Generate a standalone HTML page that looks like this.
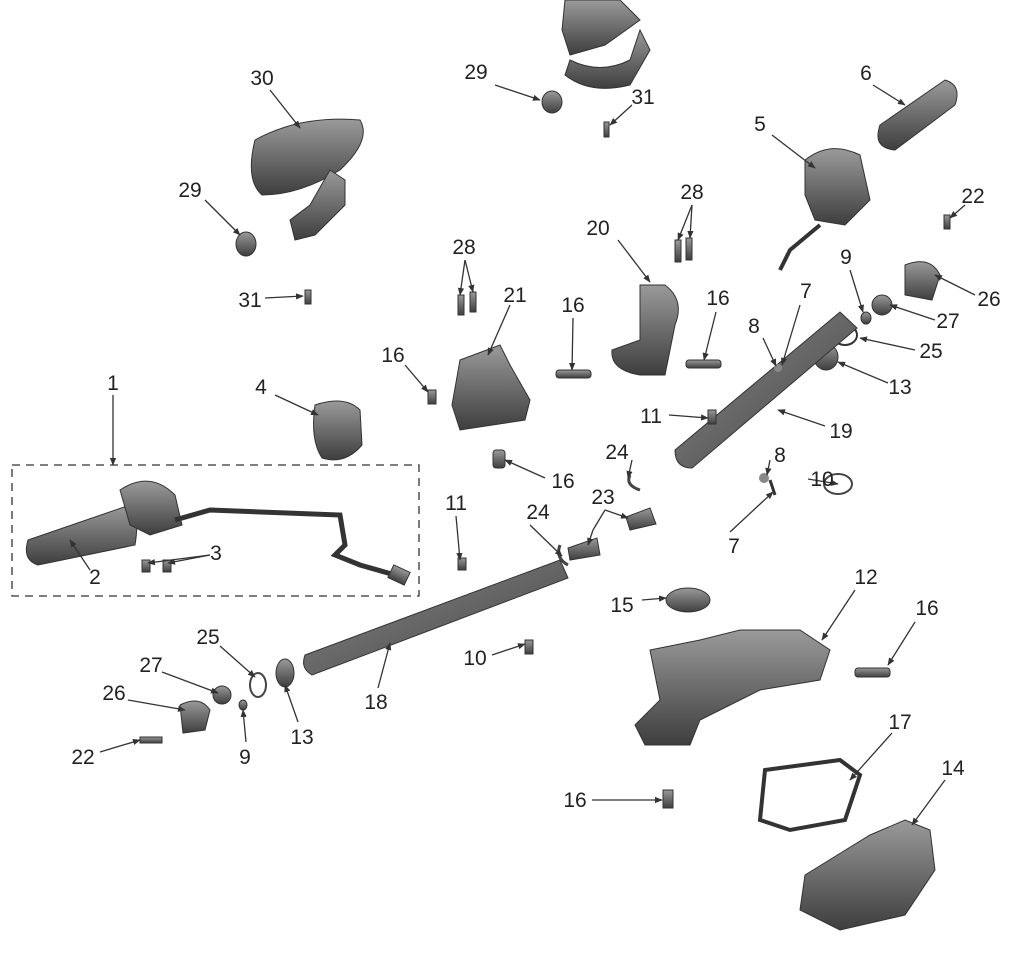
<!DOCTYPE html>
<html><head><meta charset="utf-8"><style>
html,body{margin:0;padding:0;background:#fff;}
svg{display:block;}
text{font-family:"Liberation Sans",sans-serif;font-size:21px;fill:#222;}
</style></head><body>
<svg width="1017" height="966" viewBox="0 0 1017 966">
<defs>
<linearGradient id="g" x1="0" y1="0" x2="0" y2="1"><stop offset="0" stop-color="#9a9a9a"/><stop offset="1" stop-color="#3e3e3e"/></linearGradient>
<linearGradient id="gh" x1="0" y1="0" x2="1" y2="1"><stop offset="0" stop-color="#888"/><stop offset="1" stop-color="#444"/></linearGradient>
<marker id="a" viewBox="0 0 10 10" refX="9" refY="5" markerWidth="6" markerHeight="6" orient="auto"><path d="M0 1 L10 5 L0 9Z" fill="#333"/></marker>
</defs>
<g fill="url(#g)" stroke="#333" stroke-width="1">
<path d="M255 140 Q300 115 360 120 Q372 140 340 170 Q300 195 262 195 Q245 180 255 140Z"/>
<path d="M330 170 L345 180 L345 205 L315 235 L295 240 L290 220 L310 205 Z"/>
<ellipse cx="246" cy="244" rx="10" ry="12"/>
<rect x="305" y="290" width="6" height="14"/>
<path d="M565 0 L620 0 L640 20 L605 45 L570 55 L562 30Z"/>
<path d="M570 60 Q600 75 630 60 L640 30 L650 50 L630 85 Q590 95 565 75Z"/>
<ellipse cx="552" cy="102" rx="10" ry="11"/>
<rect x="604" y="122" width="5" height="15"/>
<path d="M880 125 L945 80 Q962 85 955 105 L895 150 Q872 148 880 125Z"/>
<path d="M805 160 Q830 140 860 155 L870 200 L845 225 L815 220 L805 195Z"/>
<path d="M820 225 L790 250 L780 270" fill="none" stroke-width="4"/>
<path d="M905 265 Q930 255 940 275 L932 300 L905 295Z"/>
<ellipse cx="882" cy="305" rx="10" ry="10"/>
<ellipse cx="866" cy="318" rx="5" ry="6"/>
<ellipse cx="826" cy="357" rx="12" ry="13"/>
<ellipse cx="845" cy="335" rx="12" ry="10" fill="none" stroke-width="2"/>
<rect x="944" y="215" width="6" height="14"/>
<path d="M640 285 L665 285 Q685 300 675 325 L665 375 L640 375 Q610 370 612 350 L640 340Z"/>
<path d="M460 360 L500 345 L510 365 L530 400 L525 420 L460 430 L452 405Z"/>
<rect x="458" y="295" width="6" height="20"/><rect x="470" y="292" width="6" height="20"/>
<rect x="675" y="240" width="6" height="22"/><rect x="686" y="238" width="6" height="22"/>
<rect x="556" y="370" width="35" height="8" rx="3"/>
<rect x="686" y="360" width="35" height="8" rx="3"/>
<rect x="428" y="390" width="8" height="14"/>
<rect x="493" y="450" width="12" height="18" rx="3"/>
<path d="M315 405 Q345 395 360 410 L362 445 Q345 465 322 458 Q310 440 315 405Z"/>
<path d="M28 540 L130 505 Q140 515 135 545 L38 565 Q22 560 28 540Z"/>
<path d="M120 490 Q150 470 175 495 L182 525 L150 535 L130 525Z"/>
<path d="M175 520 L210 510 L340 515 L345 545 L335 555 L360 565 L395 575" fill="none" stroke-width="5"/>
<rect x="390" y="568" width="18" height="14" transform="rotate(25 399 575)"/>
<rect x="142" y="560" width="8" height="12"/><rect x="163" y="560" width="8" height="12"/>
<path d="M675 450 L840 312 L857 328 L692 468 Q675 468 675 450Z" fill="url(#gh)"/>
<path d="M305 655 L560 560 L568 578 L312 675 Q300 668 305 655Z" fill="url(#gh)"/>
<path d="M568 548 L597 538 L600 555 L570 560Z"/>
<path d="M626 517 L650 508 L656 524 L630 530Z"/>
<ellipse cx="285" cy="673" rx="9" ry="14"/>
<ellipse cx="222" cy="695" rx="9" ry="9"/>
<ellipse cx="243" cy="705" rx="4" ry="5"/>
<path d="M180 705 Q200 695 210 710 L205 730 L183 733Z"/>
<rect x="140" y="737" width="22" height="6"/>
<ellipse cx="688" cy="600" rx="22" ry="12"/>
<path d="M650 650 L700 640 L740 630 L800 630 L830 650 L820 680 L760 690 L700 720 L690 745 L645 745 L635 725 L660 700Z"/>
<rect x="855" y="668" width="35" height="9" rx="3"/>
<path d="M765 770 L840 760 L860 775 L845 820 L790 830 L760 820Z" fill="none" stroke-width="4"/>
<path d="M805 875 L870 835 L905 820 L930 830 L935 870 L905 915 L840 930 L800 910Z"/>
<rect x="663" y="790" width="10" height="18"/>
<rect x="525" y="640" width="8" height="14"/>
<rect x="708" y="410" width="8" height="14"/>
<rect x="458" y="558" width="8" height="12"/>
</g>
<path d="M770 480 L775 495" stroke="#333" stroke-width="3"/>
<ellipse cx="764" cy="478" rx="5" ry="5" fill="#888"/>
<ellipse cx="778" cy="368" rx="4" ry="4" fill="#888"/>
<path d="M630 475 Q625 485 640 490" fill="none" stroke="#444" stroke-width="3"/>
<path d="M560 545 Q555 558 568 565" fill="none" stroke="#444" stroke-width="3"/>
<ellipse cx="838" cy="484" rx="14" ry="10" fill="none" stroke="#444" stroke-width="2"/>
<ellipse cx="258" cy="685" rx="8" ry="12" fill="none" stroke="#444" stroke-width="2"/>
<rect x="12" y="465" width="407" height="131" fill="none" stroke="#333" stroke-width="1.3" stroke-dasharray="8,6"/>
<g stroke="#333" stroke-width="1.3" fill="none" marker-end="url(#a)">
<line x1="113" y1="395" x2="113" y2="465"/>
<line x1="270" y1="90" x2="300" y2="128"/>
<line x1="205" y1="200" x2="240" y2="235"/>
<line x1="265" y1="298" x2="303" y2="296"/>
<line x1="275" y1="395" x2="318" y2="415"/>
<line x1="210" y1="555" x2="148" y2="563"/><line x1="210" y1="555" x2="168" y2="563"/>
<line x1="90" y1="570" x2="70" y2="540"/>
<line x1="465" y1="260" x2="460" y2="295"/><line x1="465" y1="260" x2="473" y2="292"/>
<line x1="510" y1="305" x2="488" y2="355"/>
<line x1="405" y1="365" x2="428" y2="392"/>
<line x1="573" y1="318" x2="572" y2="370"/>
<line x1="618" y1="240" x2="650" y2="282"/>
<line x1="692" y1="205" x2="678" y2="240"/><line x1="692" y1="205" x2="690" y2="238"/>
<line x1="716" y1="312" x2="704" y2="360"/>
<line x1="495" y1="85" x2="540" y2="100"/>
<line x1="632" y1="105" x2="610" y2="125"/>
<line x1="873" y1="85" x2="905" y2="105"/>
<line x1="772" y1="135" x2="815" y2="168"/>
<line x1="965" y1="205" x2="950" y2="218"/>
<line x1="850" y1="270" x2="863" y2="312"/>
<line x1="975" y1="295" x2="935" y2="275"/>
<line x1="935" y1="320" x2="890" y2="305"/>
<line x1="915" y1="350" x2="860" y2="338"/>
<line x1="888" y1="383" x2="838" y2="362"/>
<line x1="800" y1="305" x2="782" y2="365"/>
<line x1="763" y1="338" x2="776" y2="366"/>
<line x1="669" y1="415" x2="708" y2="418"/>
<line x1="825" y1="426" x2="778" y2="410"/>
<line x1="632" y1="460" x2="628" y2="478"/>
<line x1="770" y1="460" x2="767" y2="475"/>
<line x1="808" y1="479" x2="838" y2="484"/>
<line x1="545" y1="478" x2="505" y2="460"/>
<line x1="605" y1="510" x2="628" y2="518"/><line x1="593" y1="530" x2="588" y2="545"/>
<line x1="530" y1="525" x2="562" y2="556"/>
<line x1="456" y1="516" x2="460" y2="560"/>
<line x1="730" y1="532" x2="773" y2="492"/>
<line x1="855" y1="590" x2="822" y2="640"/>
<line x1="642" y1="600" x2="666" y2="598"/>
<line x1="915" y1="622" x2="888" y2="665"/>
<line x1="492" y1="655" x2="525" y2="644"/>
<line x1="220" y1="646" x2="255" y2="677"/>
<line x1="162" y1="672" x2="218" y2="693"/>
<line x1="128" y1="700" x2="185" y2="710"/>
<line x1="378" y1="688" x2="390" y2="643"/>
<line x1="298" y1="722" x2="285" y2="685"/>
<line x1="100" y1="752" x2="140" y2="740"/>
<line x1="246" y1="742" x2="243" y2="710"/>
<line x1="892" y1="733" x2="850" y2="780"/>
<line x1="945" y1="780" x2="912" y2="825"/>
<line x1="592" y1="800" x2="662" y2="800"/>
</g>
<line x1="593" y1="530" x2="605" y2="510" stroke="#333" stroke-width="1.3"/>
<g text-anchor="middle">
<text x="113" y="390">1</text><text x="262" y="85">30</text><text x="190" y="197">29</text>
<text x="250" y="307">31</text><text x="261" y="394">4</text><text x="216" y="560">3</text>
<text x="95" y="584">2</text><text x="464" y="254">28</text><text x="515" y="302">21</text>
<text x="393" y="362">16</text><text x="573" y="312">16</text><text x="598" y="235">20</text>
<text x="692" y="199">28</text><text x="718" y="305">16</text><text x="476" y="79">29</text>
<text x="643" y="104">31</text><text x="866" y="80">6</text><text x="760" y="131">5</text>
<text x="973" y="203">22</text><text x="846" y="264">9</text><text x="989" y="306">26</text>
<text x="948" y="328">27</text><text x="931" y="358">25</text><text x="900" y="394">13</text>
<text x="806" y="298">7</text><text x="754" y="333">8</text><text x="651" y="423">11</text>
<text x="841" y="438">19</text><text x="617" y="459">24</text><text x="780" y="462">8</text>
<text x="822" y="486">10</text><text x="563" y="488">16</text><text x="603" y="504">23</text>
<text x="538" y="519">24</text><text x="456" y="510">11</text><text x="734" y="553">7</text>
<text x="866" y="584">12</text><text x="622" y="612">15</text><text x="927" y="615">16</text>
<text x="475" y="665">10</text><text x="208" y="644">25</text><text x="151" y="672">27</text>
<text x="114" y="700">26</text><text x="376" y="709">18</text><text x="302" y="744">13</text>
<text x="83" y="764">22</text><text x="245" y="764">9</text><text x="900" y="729">17</text>
<text x="953" y="775">14</text><text x="575" y="807">16</text>
</g>
</svg>
</body></html>
